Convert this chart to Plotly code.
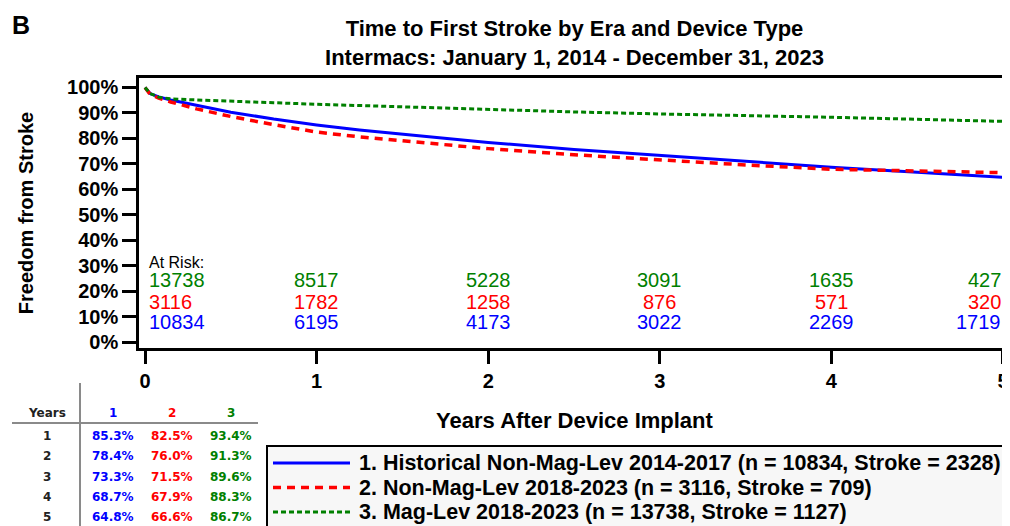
import plotly.graph_objects as go

# Kaplan-Meier estimates (freedom from stroke, %)
anos = [0, 0.03, 0.08, 0.15, 0.3, 0.5, 0.75, 1, 1.25, 1.5, 2, 2.5, 3, 3.5, 4, 4.5, 5, 5.05]
historico = [100, 97.6, 96.3, 95.1, 93.0, 90.3, 87.6, 85.3, 83.3, 81.7, 78.4, 75.7, 73.3, 71.0, 68.7, 66.7, 64.8, 64.6]
non_maglev = [100, 97.3, 95.8, 94.3, 91.6, 88.6, 85.4, 82.5, 80.6, 79.0, 76.0, 73.6, 71.5, 69.6, 67.9, 67.2, 66.6, 66.5]
maglev = [100, 97.6, 96.2, 95.5, 95.1, 94.7, 94.0, 93.4, 92.9, 92.4, 91.3, 90.4, 89.6, 89.0, 88.3, 87.5, 86.7, 86.6]

nomes = [
    "1. Historical Non-Mag-Lev 2014-2017 (n = 10834, Stroke = 2328)",
    "2. Non-Mag-Lev 2018-2023 (n = 3116, Stroke = 709)",
    "3. Mag-Lev 2018-2023 (n = 13738, Stroke = 1127)",
]

# Numbers at risk
risco_anos = [0, 1, 2, 3, 4, 5]
risco_maglev = [13738, 8517, 5228, 3091, 1635, 427]
risco_non_maglev = [3116, 1782, 1258, 876, 571, 320]
risco_historico = [10834, 6195, 4173, 3022, 2269, 1719]

# Table of survival at years 1..5
tabela_anos = [1, 2, 3, 4, 5]
tabela_historico = [85.3, 78.4, 73.3, 68.7, 64.8]
tabela_non_maglev = [82.5, 76.0, 71.5, 67.9, 66.6]
tabela_maglev = [93.4, 91.3, 89.6, 88.3, 86.7]

AZUL, VERMELHO, VERDE = "#0000ff", "#ff0000", "#008000"
FONTE = "Liberation Sans, Arial, sans-serif"

estilos = [
    dict(color=AZUL, width=3),
    dict(color=VERMELHO, width=3.5, dash="8px,6px"),
    dict(color=VERDE, width=3, dash="5px,3px"),
]

# The page body has an 8px margin, so the figure starts at (8, 8) on screen
OFF = 8
W, H = 1010 - OFF, 526 - OFF
# Plot area in screen pixels (used to place decorations in paper coords)
L, R, T, B = 139, 1010, 78, 348
def px_x(p):
    return (p - L) / (R - L)
def px_y(p):
    return (B - p) / (B - T)

fig = go.Figure()

for serie, nome, estilo in zip([historico, non_maglev, maglev], nomes, estilos):
    fig.add_trace(go.Scatter(x=anos, y=serie, mode="lines", name=nome, line=estilo,
                             showlegend=False))

# At risk numbers
fig.add_annotation(x=0.01, y=31.5, text="At Risk:", showarrow=False, xanchor="left", yanchor="middle",
                   font=dict(family=FONTE, size=16, color="black"))
linhas = [(risco_maglev, VERDE, 24.4), (risco_non_maglev, VERMELHO, 16.0), (risco_historico, AZUL, 7.9)]
for valores, cor, ypos in linhas:
    for ano, v in zip(risco_anos, valores):
        anchor = "left" if ano == 0 else ("right" if ano == 5 else "center")
        fig.add_annotation(x=ano + (0.01 if ano == 0 else 0), y=ypos, text=str(v), showarrow=False,
                           xanchor=anchor, yanchor="middle", font=dict(family=FONTE, size=20, color=cor))

# Panel letter
fig.add_annotation(xref="paper", yref="paper", x=px_x(10), y=px_y(9), text="B", showarrow=False,
                   xanchor="left", yanchor="top",
                   font=dict(family=FONTE, size=25, color="black", weight="bold"))

# Legend box (drawn by hand to match the original layout)
fig.add_shape(type="rect", xref="paper", yref="paper", x0=px_x(267), x1=px_x(1006), y0=px_y(446), y1=px_y(530),
              line=dict(color="black", width=2), fillcolor="#f7f7f7", layer="below")
for i, (nome, estilo) in enumerate(zip(nomes, estilos)):
    ypix = 463 + i * 24.5
    fig.add_shape(type="line", xref="paper", yref="paper", x0=px_x(273), x1=px_x(350),
                  y0=px_y(ypix), y1=px_y(ypix), line=estilo)
    fig.add_annotation(xref="paper", yref="paper", x=px_x(357), y=px_y(ypix), text=nome, showarrow=False,
                       xanchor="left", yanchor="middle",
                       font=dict(family=FONTE, size=21.5, color="black", weight="bold"))

# Table at bottom left
fonte_tab = "DejaVu Sans, Verdana, sans-serif"
col_x = [47, 113, 172, 231]
cab = ["Years", "1", "2", "3"]
cores_cab = ["#222222", AZUL, VERMELHO, VERDE]
for cx, txt, cor in zip(col_x, cab, cores_cab):
    fig.add_annotation(xref="paper", yref="paper", x=px_x(cx), y=px_y(413), text=txt, showarrow=False,
                       xanchor="center", yanchor="middle",
                       font=dict(family=fonte_tab, size=12, color=cor, weight="bold"))
for i, ano in enumerate(tabela_anos):
    ypix = 436 + i * 20.3
    celulas = [str(ano), f"{tabela_historico[i]:.1f}%", f"{tabela_non_maglev[i]:.1f}%", f"{tabela_maglev[i]:.1f}%"]
    for cx, txt, cor in zip(col_x, celulas, cores_cab):
        fig.add_annotation(xref="paper", yref="paper", x=px_x(cx), y=px_y(ypix), text=txt, showarrow=False,
                           xanchor="center", yanchor="middle",
                           font=dict(family=fonte_tab, size=12, color=cor, weight="bold"))
fig.add_shape(type="line", xref="paper", yref="paper", x0=px_x(12), x1=px_x(258), y0=px_y(423), y1=px_y(423),
              line=dict(color="#8a8a8a", width=2))
fig.add_shape(type="line", xref="paper", yref="paper", x0=px_x(80), x1=px_x(80), y0=px_y(383), y1=px_y(526),
              line=dict(color="#8a8a8a", width=2))

fig.update_layout(
    width=W, height=H,
    margin=dict(l=L - OFF, r=1010 - R, t=T - OFF, b=526 - B, autoexpand=False),
    paper_bgcolor="white", plot_bgcolor="white",
    title=dict(text="Time to First Stroke by Era and Device Type<br>Intermacs: January 1, 2014 - December 31, 2023",
               x=0.5, xref="paper", xanchor="center", y=1 - 28 / H, yref="container", yanchor="top",
               font=dict(family=FONTE, size=22, color="black", weight="bold")),
    showlegend=False,
    xaxis=dict(range=[-0.035, 5.041], tickmode="array", tickvals=risco_anos, automargin=False,
               showgrid=False, zeroline=False, showline=True, linecolor="black", linewidth=2.5,
               mirror=True, ticks="outside", ticklen=13, tickwidth=2.5, tickcolor="black",
               tickfont=dict(family=FONTE, size=20, color="black", weight="bold"),
               title=dict(text="Years After Device Implant", standoff=22,
                          font=dict(family=FONTE, size=22, color="black", weight="bold"))),
    yaxis=dict(range=[-2.2, 103.7], tickmode="array", tickvals=list(range(0, 101, 10)),
               ticktext=[f"{v}%" for v in range(0, 101, 10)], automargin=False,
               showgrid=False, zeroline=False, showline=True, linecolor="black", linewidth=2.5,
               ticks="outside", ticklen=14, tickwidth=2.5, tickcolor="black",
               tickfont=dict(family=FONTE, size=20, color="black", weight="bold"),
               title=dict(text="Freedom from Stroke", standoff=29,
                          font=dict(family=FONTE, size=20, color="black", weight="bold"))),
)

fig.write_html("out.html")
